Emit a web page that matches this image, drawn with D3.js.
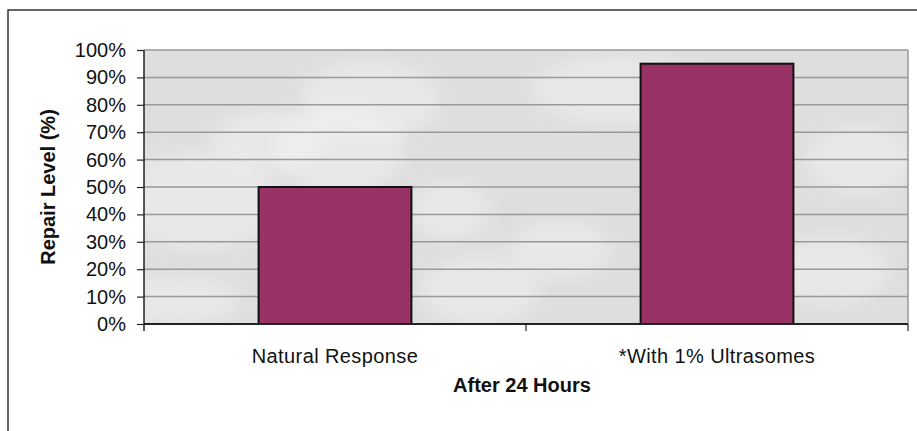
<!DOCTYPE html>
<html>
<head>
<meta charset="utf-8">
<script src="https://cdn.jsdelivr.net/npm/d3@7"></script>
<style>
  body { margin: 0; background: #fff; }
  text { font-family: "Liberation Sans", Arial, sans-serif; }
</style>
</head>
<body>
<script>
var width = 917,
	height = 431;

// data
var categories = ["Natural Response", "*With 1% Ultrasomes"],
	repairLevel = [50, 95],
	yTicks = [0, 10, 20, 30, 40, 50, 60, 70, 80, 90, 100];

var plot = {left: 144, top: 50, right: 908, bottom: 324},
	fontSize = 20;

var svg = d3.select("body")
		.append("svg")
		.attr("width", width)
		.attr("height", height);

// outer chart frame (runs off the right and bottom edges)
svg.append("rect")
	.attr("x", 8).attr("y", 10)
	.attr("width", 960).attr("height", 460)
	.attr("fill", "#fff")
	.attr("stroke", "#333")
	.attr("stroke-width", 1.5);

var x = d3.scaleBand()
		.domain(categories)
		.range([plot.left, plot.right])
		.paddingInner(0.6)
		.paddingOuter(0.3);

var y = d3.scaleLinear()
		.domain([0, 100])
		.range([plot.bottom, plot.top]);

// faint photo-like background of the plot area
var defs = svg.append("defs");
defs.append("filter").attr("id", "soft")
	.append("feGaussianBlur").attr("stdDeviation", 8);
defs.append("clipPath").attr("id", "plotClip")
	.append("rect")
	.attr("x", plot.left).attr("y", plot.top)
	.attr("width", plot.right - plot.left).attr("height", plot.bottom - plot.top);

var bg = svg.append("g").attr("clip-path", "url(#plotClip)");
bg.append("rect")
	.attr("x", plot.left).attr("y", plot.top)
	.attr("width", plot.right - plot.left).attr("height", plot.bottom - plot.top)
	.attr("fill", "#dedede");
var blobs = [[370, 100, 70, 40], [340, 150, 65, 45], [270, 140, 60, 30], [200, 200, 80, 50],
	[480, 290, 60, 35], [560, 250, 50, 30], [860, 160, 55, 35], [830, 270, 60, 35],
	[620, 90, 90, 35], [450, 210, 40, 30], [740, 200, 50, 30], [180, 300, 60, 25]];
bg.selectAll("ellipse")
	.data(blobs)
	.enter().append("ellipse")
	.attr("cx", function(d){ return d[0]; })
	.attr("cy", function(d){ return d[1]; })
	.attr("rx", function(d){ return d[2]; })
	.attr("ry", function(d){ return d[3]; })
	.attr("fill", "#f2f2f2")
	.attr("opacity", 0.5)
	.attr("filter", "url(#soft)");

// gridlines
svg.append("g")
	.selectAll("line")
	.data(yTicks.slice(1))
	.enter().append("line")
	.attr("x1", plot.left).attr("x2", plot.right)
	.attr("y1", function(d){ return y(d); })
	.attr("y2", function(d){ return y(d); })
	.attr("stroke", "#999")
	.attr("stroke-width", 1.5);

// plot right border
svg.append("line")
	.attr("x1", plot.right).attr("x2", plot.right)
	.attr("y1", plot.top).attr("y2", plot.bottom)
	.attr("stroke", "#999").attr("stroke-width", 1.5);

// bars
svg.append("g")
	.selectAll("rect")
	.data(repairLevel)
	.enter().append("rect")
	.attr("x", function(d, i){ return x(categories[i]); })
	.attr("y", function(d){ return y(d); })
	.attr("width", x.bandwidth())
	.attr("height", function(d){ return y(0) - y(d); })
	.attr("fill", "#993366")
	.attr("stroke", "#111")
	.attr("stroke-width", 2);

// y axis
var yAxis = svg.append("g")
	.attr("transform", "translate(" + plot.left + ",0)")
	.call(d3.axisLeft(y).tickValues(yTicks).tickSize(7).tickPadding(11)
		.tickFormat(function(d){ return d + "%"; }));
yAxis.select(".domain").attr("stroke", "#222").attr("stroke-width", 1.5)
	.attr("d", "M0," + plot.top + "V" + (plot.bottom + 7));
yAxis.selectAll(".tick line").attr("stroke", "#222").attr("stroke-width", 1.2);
yAxis.selectAll(".tick text")
	.attr("font-size", fontSize)
	.attr("fill", "#111")
	.attr("font-family", "Liberation Sans, Arial, sans-serif");

// x axis
var xAxis = svg.append("g")
	.attr("transform", "translate(0," + plot.bottom + ")")
	.call(d3.axisBottom(x).tickSize(0).tickPadding(25));
xAxis.select(".domain").attr("stroke", "#222").attr("stroke-width", 2)
	.attr("d", "M" + plot.left + ",0H" + plot.right);
xAxis.selectAll(".tick text")
	.attr("font-size", fontSize)
	.attr("fill", "#111")
	.attr("letter-spacing", 0.4)
	.attr("font-family", "Liberation Sans, Arial, sans-serif");

// category separators below the axis
var seps = [plot.left + (plot.right - plot.left) / 2, plot.right];
svg.selectAll(".sep")
	.data(seps)
	.enter().append("line")
	.attr("class", "sep")
	.attr("x1", function(d){ return d; }).attr("x2", function(d){ return d; })
	.attr("y1", plot.bottom).attr("y2", plot.bottom + 7)
	.attr("stroke", "#222").attr("stroke-width", 1.2);

// axis titles
svg.append("text")
	.attr("x", (plot.left + plot.right) / 2 - 4)
	.attr("y", 392)
	.attr("text-anchor", "middle")
	.attr("font-size", fontSize)
	.attr("font-weight", "bold")
	.attr("fill", "#111")
	.text("After 24 Hours");

svg.append("text")
	.attr("transform", "translate(55," + ((plot.top + plot.bottom) / 2) + ") rotate(-90)")
	.attr("text-anchor", "middle")
	.attr("font-size", fontSize)
	.attr("font-weight", "bold")
	.attr("fill", "#111")
	.text("Repair Level (%)");
</script>
</body>
</html>
